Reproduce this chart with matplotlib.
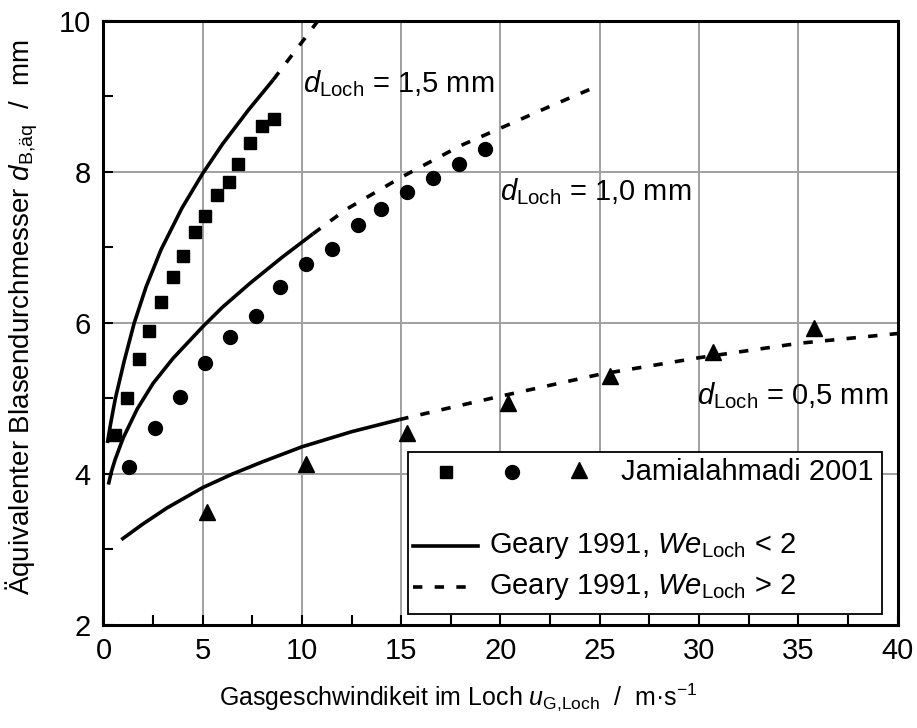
import matplotlib
matplotlib.use("Agg")
import matplotlib.pyplot as plt
from matplotlib.ticker import MultipleLocator
from matplotlib.patches import Rectangle
from matplotlib.lines import Line2D

plt.rcParams['font.family'] = ['Liberation Sans', 'DejaVu Sans']
plt.rcParams['mathtext.fontset'] = 'custom'
plt.rcParams['mathtext.rm'] = 'Liberation Sans'
plt.rcParams['mathtext.it'] = 'Liberation Sans:italic'
plt.rcParams['mathtext.bf'] = 'Liberation Sans:bold'
plt.rcParams['mathtext.sf'] = 'Liberation Sans'

FS = 21

# ---- measured data (Jamialahmadi 2001) ----
sq_x = [0.6, 1.2, 1.8, 2.3, 2.9, 3.5, 4.0, 4.6, 5.1, 5.7, 6.3, 6.8, 7.4, 8.0, 8.6]
sq_y = [4.52, 5.00, 5.52, 5.90, 6.28, 6.61, 6.89, 7.20, 7.42, 7.69, 7.87, 8.11, 8.38, 8.61, 8.70]

ci_x = [1.3, 2.6, 3.85, 5.1, 6.4, 7.7, 8.9, 10.2, 11.5, 12.8, 14.0, 15.3, 16.6, 17.9, 19.2]
ci_y = [4.09, 4.61, 5.02, 5.47, 5.81, 6.09, 6.47, 6.78, 6.98, 7.30, 7.51, 7.73, 7.92, 8.11, 8.30]

tr_x = [5.2, 10.2, 15.3, 20.4, 25.5, 30.7, 35.8]
tr_y = [3.50, 4.13, 4.54, 4.94, 5.30, 5.61, 5.94]

# ---- Geary 1991 curves ----
g15_sol_x = [0.2, 0.35, 0.6, 1.05, 1.55, 2.15, 2.9, 3.95, 5.0, 6.0, 7.3, 8.55]
g15_sol_y = [4.41, 4.65, 5.0, 5.5, 6.0, 6.48, 6.97, 7.52, 7.98, 8.37, 8.82, 9.22]
g15_das_x = [8.55, 9.3, 10.0, 10.8]
g15_das_y = [9.22, 9.48, 9.72, 10.0]

g10_sol_x = [0.25, 0.4, 0.6, 1.0, 1.7, 2.5, 3.5, 5.0, 6.0, 7.4, 9.0, 10.55]
g10_sol_y = [3.86, 4.03, 4.2, 4.48, 4.86, 5.2, 5.53, 5.95, 6.21, 6.53, 6.87, 7.18]
g10_das_x = [10.55, 12.2, 15.0, 18.0, 20.0, 22.5, 25.0]
g10_das_y = [7.18, 7.5, 7.93, 8.35, 8.58, 8.87, 9.15]

g05_sol_x = [0.9, 2.0, 3.2, 5.0, 6.5, 8.0, 10.0, 12.5, 14.9]
g05_sol_y = [3.13, 3.34, 3.55, 3.82, 4.0, 4.16, 4.36, 4.56, 4.72]
g05_das_x = [14.9, 17.5, 20.0, 25.0, 30.0, 35.0, 40.0]
g05_das_y = [4.72, 4.88, 5.03, 5.32, 5.54, 5.73, 5.86]

labels_d = [r"$d_{\mathrm{Loch}}$ = 1,5 mm", r"$d_{\mathrm{Loch}}$ = 1,0 mm", r"$d_{\mathrm{Loch}}$ = 0,5 mm"]
label_pos = [(10.05, 9.06), (20.0, 7.63), (29.9, 4.93)]

fig = plt.figure(figsize=(9.17, 7.28), dpi=100)
ax = fig.add_axes([0.1128, 0.1415, 0.8660, 0.8297])

LW = 2.6
DASH = (2.6, 3.4)
for xs, ys in [(g15_sol_x, g15_sol_y), (g10_sol_x, g10_sol_y), (g05_sol_x, g05_sol_y)]:
    ax.plot(xs, ys, color='black', lw=LW, solid_capstyle='butt', solid_joinstyle='round', zorder=3)
for xs, ys in [(g15_das_x, g15_das_y), (g10_das_x, g10_das_y), (g05_das_x, g05_das_y)]:
    ax.plot(xs, ys, color='black', lw=LW, dashes=DASH, zorder=3)

ax.plot(sq_x, sq_y, ls='none', marker='s', ms=9, color='black', zorder=4)
ax.plot(ci_x, ci_y, ls='none', marker='o', ms=10, color='black', zorder=4)
ax.plot(tr_x, tr_y, ls='none', marker='^', ms=11, color='black', zorder=4)

for t, (px, py) in zip(labels_d, label_pos):
    ax.text(px, py, t, fontsize=FS, ha='left', va='baseline', zorder=5)

ax.set_xlim(0, 40)
ax.set_ylim(2, 10)
ax.xaxis.set_major_locator(MultipleLocator(5))
ax.xaxis.set_minor_locator(MultipleLocator(2.5))
ax.yaxis.set_major_locator(MultipleLocator(2))
ax.yaxis.set_minor_locator(MultipleLocator(1))
ax.grid(True, which='major', color='#a0a0a0', lw=1.4)
ax.set_axisbelow(True)
ax.tick_params(which='both', direction='in', width=1.5, labelsize=FS, top=False, right=False)
ax.tick_params(which='major', length=7, pad=9)
ax.tick_params(which='minor', length=7)
for s in ax.spines.values():
    s.set_linewidth(2.2)

# ---- manual legend ----
T = ax.transAxes
ax.add_patch(Rectangle((0.384, 0.018), 0.597, 0.269, transform=T, facecolor='white',
                       edgecolor='black', lw=1.3, zorder=6))
ax.add_line(Line2D([0.4315], [0.253], transform=T, marker='s', ms=9, color='black', ls='none', zorder=7))
ax.add_line(Line2D([0.514], [0.253], transform=T, marker='o', ms=10, color='black', ls='none', zorder=7))
ax.add_line(Line2D([0.599], [0.256], transform=T, marker='^', ms=11, color='black', ls='none', zorder=7))
ax.text(0.6515, 0.253, "Jamialahmadi 2001", transform=T, fontsize=FS, ha='left', va='center', zorder=7)
ax.add_line(Line2D([0.390, 0.472], [0.131, 0.131], transform=T, color='black', lw=LW, zorder=7))
ax.text(0.485, 0.131, r"Geary 1991, $\mathit{We}_{\mathrm{Loch}}$ < 2", transform=T, fontsize=FS,
        ha='left', va='center', zorder=7)
ax.add_line(Line2D([0.390, 0.472], [0.0634, 0.0634], transform=T, color='black', lw=LW,
                   dashes=DASH, zorder=7))
ax.text(0.485, 0.0634, r"Geary 1991, $\mathit{We}_{\mathrm{Loch}}$ > 2", transform=T, fontsize=FS,
        ha='left', va='center', zorder=7)

fig.text(0.5, 0.042, r"Gasgeschwindikeit im Loch $u_{\mathrm{G{,}Loch}}$  /  m·s$^{-1}$",
         fontsize=18, ha='center', va='center')
fig.text(0.024, 0.565, r"Äquivalenter Blasendurchmesser $d_{\mathrm{B{,}äq}}$  /  mm",
         fontsize=20, ha='center', va='center', rotation=90)

fig.savefig("out.png", dpi=100)
